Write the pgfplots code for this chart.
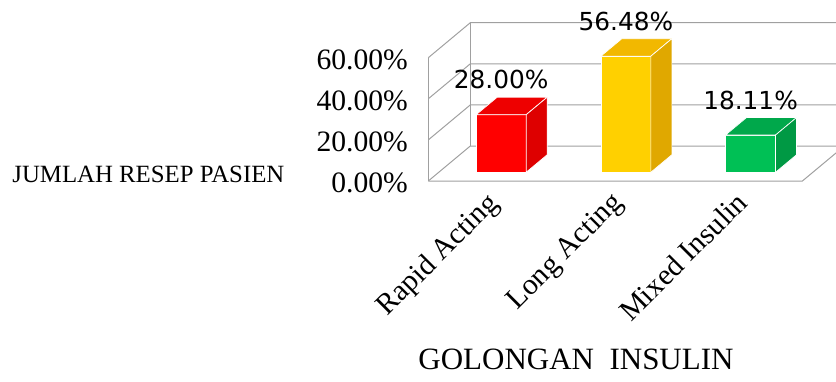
\documentclass[border=0pt]{standalone}
\usepackage{fontspec}
\setmainfont{Liberation Serif}
\newfontfamily\labelfont{DejaVu Sans}
\usepackage{pgfplots}
\pgfplotsset{compat=1.18}
\usepackage{pgfplotstable}

% face colours: front, top, side
\definecolor{rapidFront}{RGB}{255,0,0}
\definecolor{rapidTop}{RGB}{238,0,0}
\definecolor{rapidSide}{RGB}{222,0,0}
\definecolor{longFront}{RGB}{255,208,0}
\definecolor{longTop}{RGB}{242,184,0}
\definecolor{longSide}{RGB}{224,168,0}
\definecolor{mixedFront}{RGB}{0,192,85}
\definecolor{mixedTop}{RGB}{0,168,75}
\definecolor{mixedSide}{RGB}{0,153,68}
\definecolor{wallgray}{RGB}{160,160,160}

% share of prescriptions per insulin group (%)
\pgfplotstableread{
x y
0.5 28.00
}\rapidtab
\pgfplotstableread{
x y
1.5 56.48
}\longtab
\pgfplotstableread{
x y
2.5 18.11
}\mixedtab

% top and right faces of a bar; the mark sits at the top centre of the
% front face, \barh is the bar value, 1.0275pt per percent
\newcommand\cubefaces[2]{%
  \pgfsetlinewidth{0.35pt}%
  \pgfsetstrokecolor{white}%
  \pgfsetfillcolor{#1}%
  \pgfpathmoveto{\pgfqpoint{-12.5pt}{0pt}}%
  \pgfpathlineto{\pgfqpoint{12.5pt}{0pt}}%
  \pgfpathlineto{\pgfqpoint{23pt}{8.75pt}}%
  \pgfpathlineto{\pgfqpoint{-2pt}{8.75pt}}%
  \pgfpathclose
  \pgfusepath{fill,stroke}%
  \pgfmathsetmacro\cubeh{\barh*1.0275}%
  \pgfsetfillcolor{#2}%
  \pgfpathmoveto{\pgfqpoint{12.5pt}{0pt}}%
  \pgfpathlineto{\pgfqpoint{23pt}{8.75pt}}%
  \pgfpathlineto{\pgfpoint{23pt}{8.75pt-\cubeh pt}}%
  \pgfpathlineto{\pgfpoint{12.5pt}{-\cubeh pt}}%
  \pgfpathclose
  \pgfusepath{fill,stroke}%
}
\pgfdeclareplotmark{cube-rapid}{\cubefaces{rapidTop}{rapidSide}}
\pgfdeclareplotmark{cube-long}{\cubefaces{longTop}{longSide}}
\pgfdeclareplotmark{cube-mixed}{\cubefaces{mixedTop}{mixedSide}}

\pgfplotsset{
  front bar/.style={ybar, bar width=25pt, bar shift=0pt, fill=#1,
    draw=white, line width=0.35pt,
    point meta=explicit symbolic,
    nodes near coords={\pgfplotspointmeta\%},
    every node near coord/.append style={anchor=base, yshift=13pt,
      inner sep=0pt, font=\fontsize{12.4}{14}\labelfont, text=black}},
  bar top/.style={only marks, mark=#1,
    visualization depends on={rawy \as \barh}},
}

\begin{document}
\begin{tikzpicture}
\useasboundingbox (0,0) rectangle (418pt,190.5pt);
\clip (0,0) rectangle (418pt,190.5pt);

% walls, floor and value axis (front plane)
\begin{axis}[
  at={(214.15pt,100pt)}, anchor=south west,
  x=62.35pt, y=1.0275pt,
  xmin=0, xmax=3, ymin=0, ymax=60,
  axis line style={draw=none},
  major tick length=0pt,
  ytick={0,20,40,60},
  yticklabels={0.00\%,20.00\%,40.00\%,60.00\%},
  yticklabel style={anchor=east, inner sep=0pt, xshift=-10pt, yshift=-1pt,
    font=\fontsize{14.8}{17}\selectfont},
  xtick={0.5,1.5,2.5},
  xticklabels={Rapid Acting,Long Acting,Mixed Insulin},
  xticklabel style={xshift=-10.5pt, yshift=-5pt, rotate=45,
    anchor=north east, inner sep=0pt,
    xshift=6pt, yshift=-5pt, font=\fontsize{14.8}{17}\selectfont},
  clip=false,
]
\pgfplotsinvokeforeach{0,20,40,60}{
  \draw[wallgray, line width=0.5pt]
    (axis cs:0,#1) -- ([shift={(21pt,17.5pt)}]axis cs:0,#1)
    -- ([shift={(21pt,17.5pt)}]axis cs:3,#1);
}
\draw[wallgray, line width=0.5pt] (axis cs:0,0) -- (axis cs:0,60);
\draw[wallgray, line width=0.5pt]
  ([shift={(21pt,17.5pt)}]axis cs:0,0) -- ([shift={(21pt,17.5pt)}]axis cs:0,60);
\draw[wallgray, line width=0.5pt]
  (axis cs:0,0) -- (axis cs:3,0) -- ([shift={(21pt,17.5pt)}]axis cs:3,0);
\end{axis}

% bars, set a quarter of the depth back from the front plane
\begin{axis}[
  at={(219.4pt,104.375pt)}, anchor=south west,
  x=62.35pt, y=1.0275pt,
  xmin=0, xmax=3, ymin=0, ymax=60,
  hide axis, clip=false,
]
\addplot[front bar=rapidFront] table[meta=y] {\rapidtab};
\addplot[bar top=cube-rapid] table {\rapidtab};
\addplot[front bar=longFront] table[meta=y] {\longtab};
\addplot[bar top=cube-long] table {\longtab};
\addplot[front bar=mixedFront] table[meta=y] {\mixedtab};
\addplot[bar top=cube-mixed] table {\mixedtab};
\end{axis}

\node[anchor=west, inner sep=0pt, font=\fontsize{12.4}{14}\selectfont]
  at (6pt,103.5pt) {JUMLAH RESEP PASIEN};
\node[inner sep=0pt, font=\fontsize{15.5}{18}\selectfont]
  at (288pt,11pt) {GOLONGAN\ \ INSULIN};
\end{tikzpicture}
\end{document}
